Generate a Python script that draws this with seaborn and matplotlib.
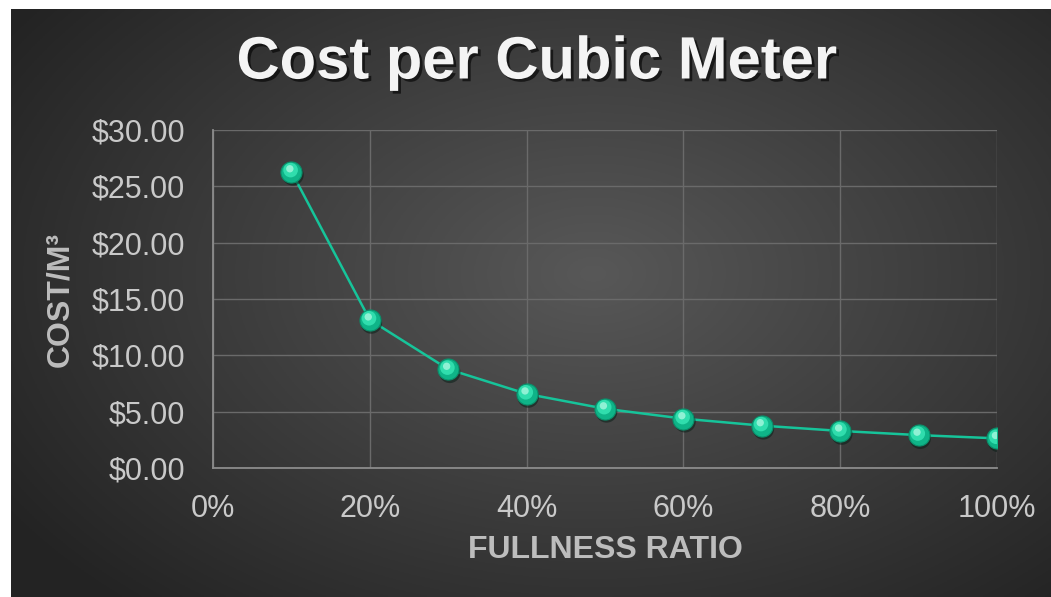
import numpy as np
import pandas as pd
import seaborn as sns
import matplotlib.pyplot as plt
import matplotlib.patheffects as pe
from matplotlib.ticker import FuncFormatter

# data
fullness = [0.1, 0.2, 0.3, 0.4, 0.5, 0.6, 0.7, 0.8, 0.9, 1.0]
cost_per_m3 = [26.30, 13.15, 8.77, 6.58, 5.26, 4.38, 3.76, 3.29, 2.92, 2.63]
x_ticks = [0.0, 0.2, 0.4, 0.6, 0.8, 1.0]
y_ticks = [0, 5, 10, 15, 20, 25, 30]

df = pd.DataFrame({'Fullness': fullness, 'Cost': cost_per_m3})

sns.set_theme(style='dark')
plt.rcParams['font.family'] = ['Liberation Sans', 'DejaVu Sans']

W, H = 1051, 597
fig = plt.figure(figsize=(W / 100, H / 100), dpi=100, facecolor='white')

# dark radial gradient background (starts a few px in from top/left)
bg = fig.add_axes([11 / W, 0, 1 - 11 / W, 1 - 9 / H])
gx, gy = np.meshgrid(np.linspace(0, 1, 400), np.linspace(0, 1, 240))
r = np.sqrt(((gx - 0.56) / 0.75) ** 2 + ((gy - 0.45) / 0.85) ** 2)
shade = np.clip(0.345 - 0.23 * r, 0.14, 0.36)
bg.imshow(np.dstack([shade] * 3), extent=[0, 1, 0, 1], aspect='auto', origin='upper')
bg.axis('off')

ax = fig.add_axes([213 / W, 1 - 468 / H, (997 - 213) / W, (468 - 130) / H])
ax.set_facecolor('none')

teal = '#16c49a'
sns.lineplot(data=df, x='Fullness', y='Cost', ax=ax, color=teal, lw=1.8, zorder=3)
# sphere-like markers: shadow, body, highlight
sns.scatterplot(x=np.array(fullness) + 0.002, y=np.array(cost_per_m3) - 0.28, ax=ax,
                s=240, color='#0a1f18', alpha=0.55, edgecolor='none', zorder=4)
sns.scatterplot(data=df, x='Fullness', y='Cost', ax=ax, s=230, color='#0fb488',
                edgecolor='#0a8f6b', linewidth=0.8, zorder=5)
sns.scatterplot(x=np.array(fullness) - 0.001, y=np.array(cost_per_m3) + 0.14, ax=ax,
                s=110, color='#34e2b2', edgecolor='none', alpha=0.9, zorder=6)
sns.scatterplot(x=np.array(fullness) - 0.002, y=np.array(cost_per_m3) + 0.26, ax=ax,
                s=28, color='#a8f7df', edgecolor='none', alpha=0.8, zorder=7)

ax.set_xlim(0, 1)
ax.set_ylim(0, 30)
ax.set_xticks(x_ticks)
ax.set_yticks(y_ticks)
ax.xaxis.set_major_formatter(FuncFormatter(lambda v, p: f"{v * 100:.0f}%"))
ax.yaxis.set_major_formatter(FuncFormatter(lambda v, p: f"${v:.2f}"))
ax.grid(True, color='#6a6a6a', lw=1.0)
ax.set_axisbelow(True)
for side in ['top', 'right']:
    ax.spines[side].set_visible(False)
for side in ['left', 'bottom']:
    ax.spines[side].set_color('#8c8c8c')
    ax.spines[side].set_linewidth(1.3)
ax.tick_params(axis='both', length=0, labelsize=22, labelcolor='#c9c9c9')
ax.tick_params(axis='y', pad=20)
ax.tick_params(axis='x', pad=19)

ax.set_xlabel('FULLNESS RATIO', fontsize=23, fontweight='bold', color='#bdbdbd', labelpad=8)
ax.set_ylabel('COST/M³', fontsize=23, fontweight='bold', color='#bdbdbd', labelpad=12)

fig.text(537 / W, 1 - 63 / H, 'Cost per Cubic Meter', ha='center', va='center',
         fontsize=43, fontweight='bold', color='#f4f4f4',
         path_effects=[pe.withSimplePatchShadow(offset=(2, -2), shadow_rgbFace='black', alpha=0.6)])

fig.savefig('out.png', dpi=100, facecolor='white')
